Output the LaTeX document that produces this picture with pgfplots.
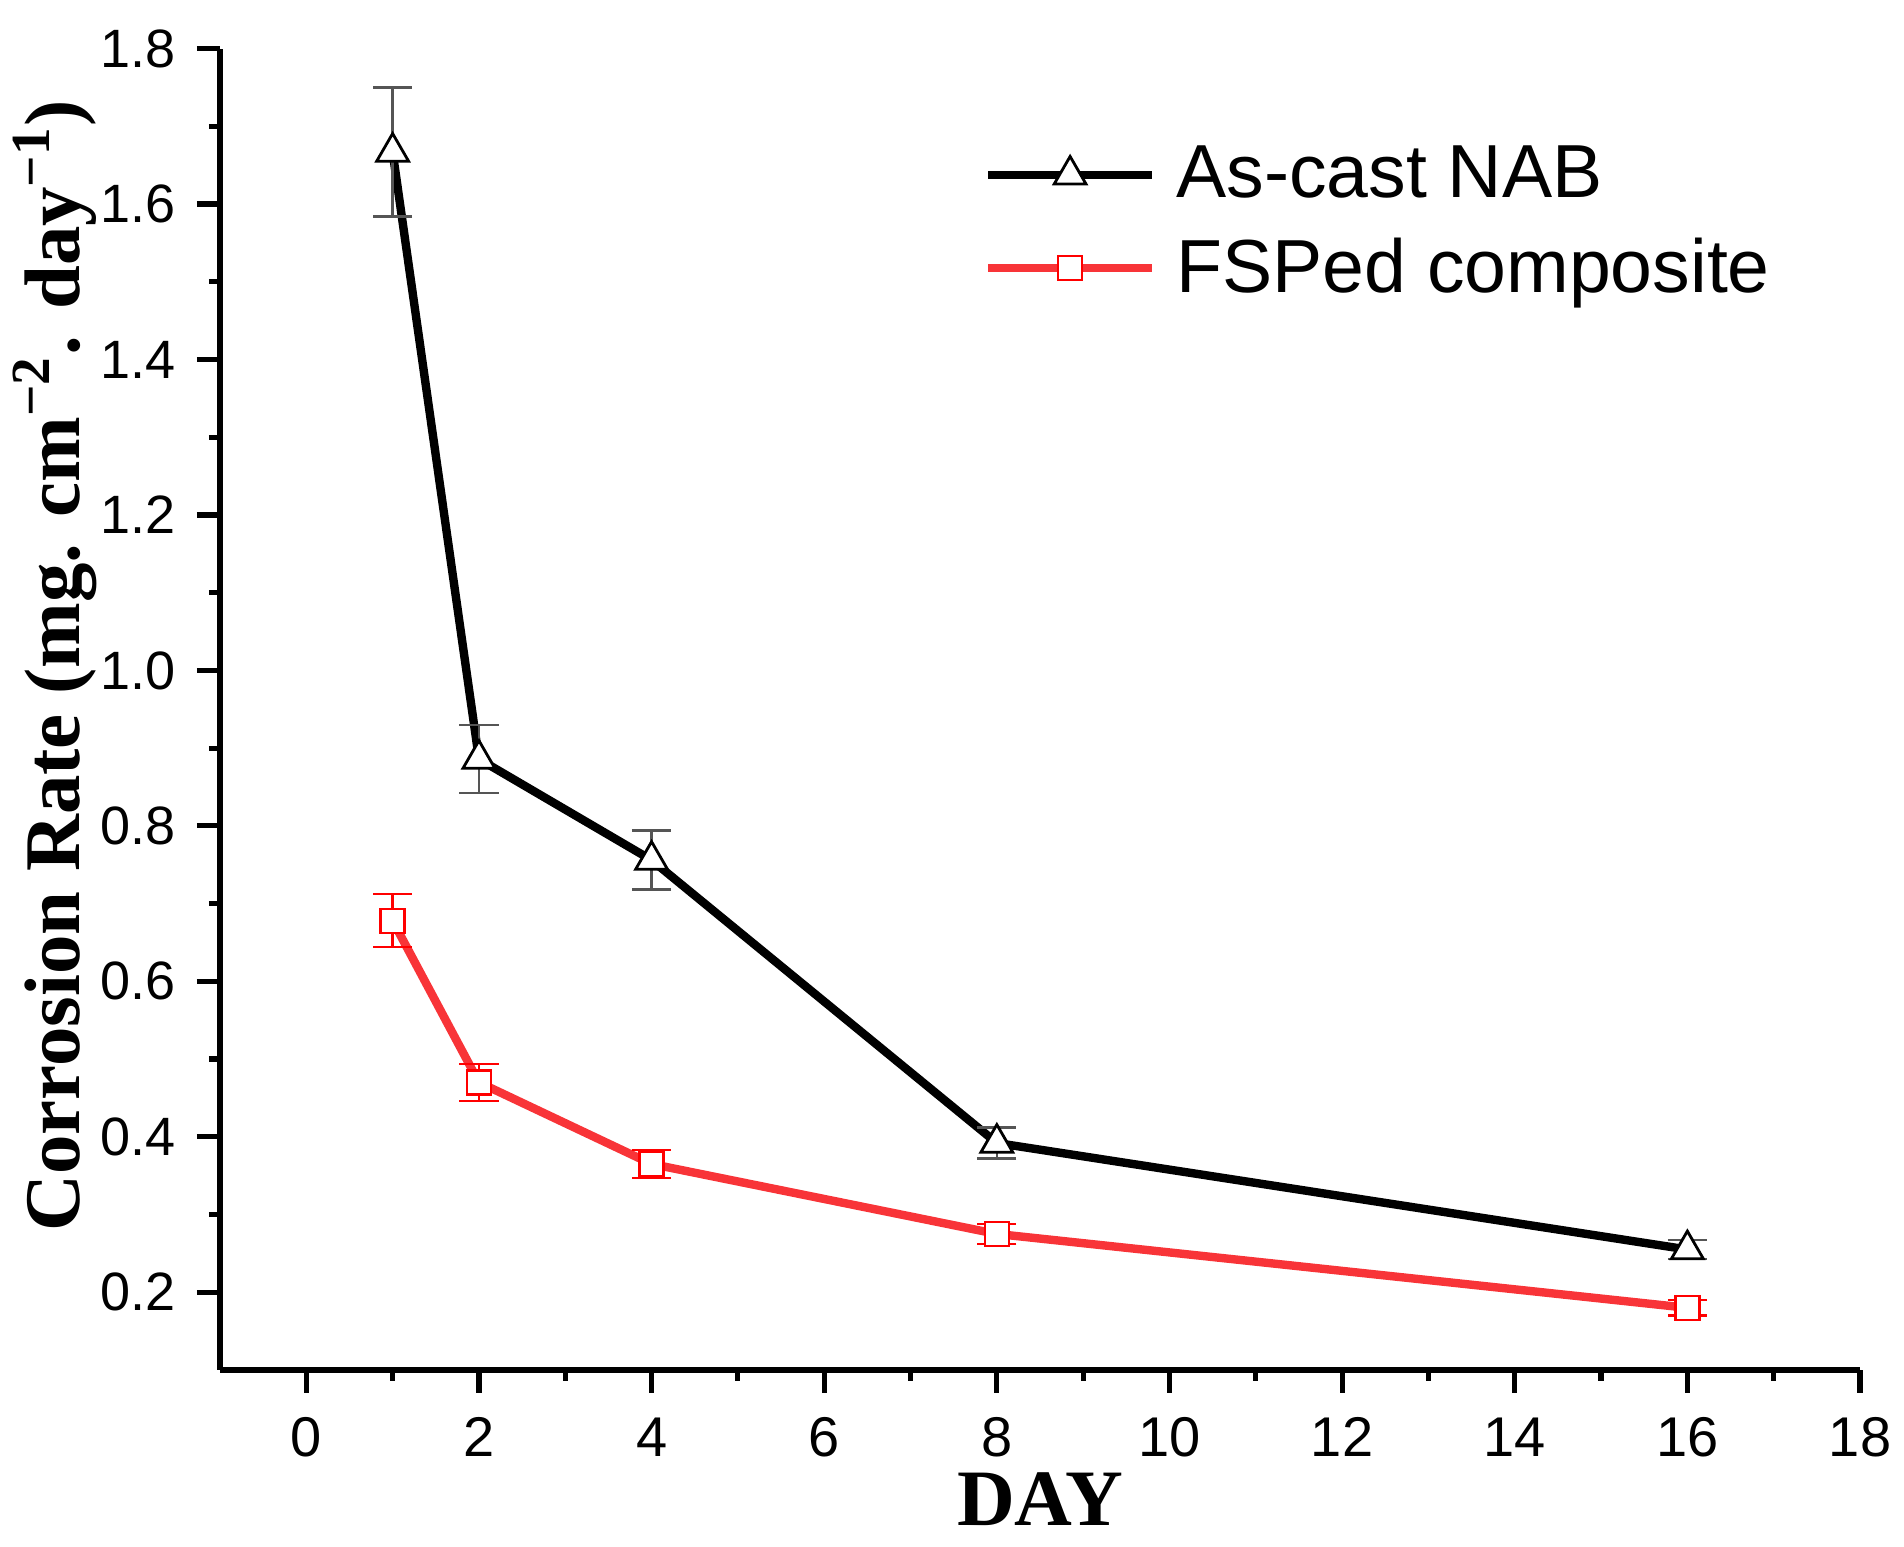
\documentclass[border=0pt]{standalone}
\usepackage{fontspec}
\setmainfont{Liberation Sans}
\newfontfamily\timesfont{Liberation Serif}
\usepackage{pgfplots}
\pgfplotsset{compat=1.18}
\definecolor{myred}{RGB}{248,52,56}
\definecolor{errgray}{RGB}{85,85,85}

\begin{document}
\begin{tikzpicture}
\begin{axis}[
  scale only axis,
  width=410pt, height=330.35pt,
  xmin=-1, xmax=18, ymin=0.1, ymax=1.8,
  axis x line*=bottom, axis y line*=left,
  axis line style={line width=1.4pt},
  xtick={0,2,4,6,8,10,12,14,16,18},
  ytick={0.2,0.4,0.6,0.8,1.0,1.2,1.4,1.6,1.8},
  minor x tick num=1, minor y tick num=1,
  tick align=outside,
  major tick length=5.75pt, minor tick length=2.75pt,
  every tick/.style={black, line width=1.3pt},
  /pgf/number format/assume math mode=true,
  y tick label style={font=\fontsize{13.5}{15}\selectfont, inner sep=0pt, xshift=-5.2pt, /pgf/number format/fixed, /pgf/number format/fixed zerofill, /pgf/number format/precision=1},
  x tick label style={font=\fontsize{14}{16}\selectfont, inner sep=0pt, yshift=-6pt},
  xlabel={\timesfont\bfseries DAY},
  xlabel style={at={(axis description cs:0.5,-0.0772)}, anchor=north, inner sep=0pt, font=\fontsize{20}{24}\selectfont},
  ylabel={\timesfont\bfseries Corrosion Rate (mg. cm\textsuperscript{−2}. day\textsuperscript{−1})},
  ylabel style={at={(axis description cs:-0.1265,0.533)}, anchor=north, inner sep=0pt, font=\fontsize{19.7}{24}\selectfont},
  legend cell align=left,
  legend style={draw=none, fill=none, at={(axis description cs:0.458,0.939)}, anchor=north west, font=\fontsize{18.8}{22}\selectfont, row sep=4.5pt,
    nodes={inner xsep=5pt}},
  legend image code/.code={\draw[mark repeat=2, mark phase=2, #1] plot coordinates {(0pt,0pt) (20.5pt,0pt) (41pt,0pt)};},
]
\addplot[black, line width=2.1pt, mark=triangle*, mark size=4.6pt,
  mark options={fill=white, draw=black, line width=0.7pt, solid},
  error bars/.cd, y dir=both, y explicit,
  error bar style={line width=0.6pt, color=errgray},
  error mark options={rotate=90, mark size=4.9pt, line width=0.6pt, color=errgray}]
coordinates {
  (1,1.667) +- (0,0.083)
  (2,0.886) +- (0,0.044)
  (4,0.756) +- (0,0.038)
  (8,0.392) +- (0,0.020)
  (16,0.255) +- (0,0.012)
};
\addlegendentry{As-cast NAB}
\addplot[myred, line width=2.1pt, mark=square*, mark size=3pt,
  mark options={fill=white, draw=red, line width=0.6pt, solid},
  error bars/.cd, y dir=both, y explicit,
  error bar style={line width=0.6pt, color=red},
  error mark options={rotate=90, mark size=4.9pt, line width=0.6pt, color=red}]
coordinates {
  (1,0.678) +- (0,0.034)
  (2,0.470) +- (0,0.024)
  (4,0.365) +- (0,0.018)
  (8,0.275) +- (0,0.013)
  (16,0.180) +- (0,0.010)
};
\addlegendentry{FSPed composite}
\end{axis}
\path ([shift={(-55pt,-44.25pt)}]current axis.south west) rectangle ([shift={(11pt,12.15pt)}]current axis.north east);
\end{tikzpicture}
\end{document}
